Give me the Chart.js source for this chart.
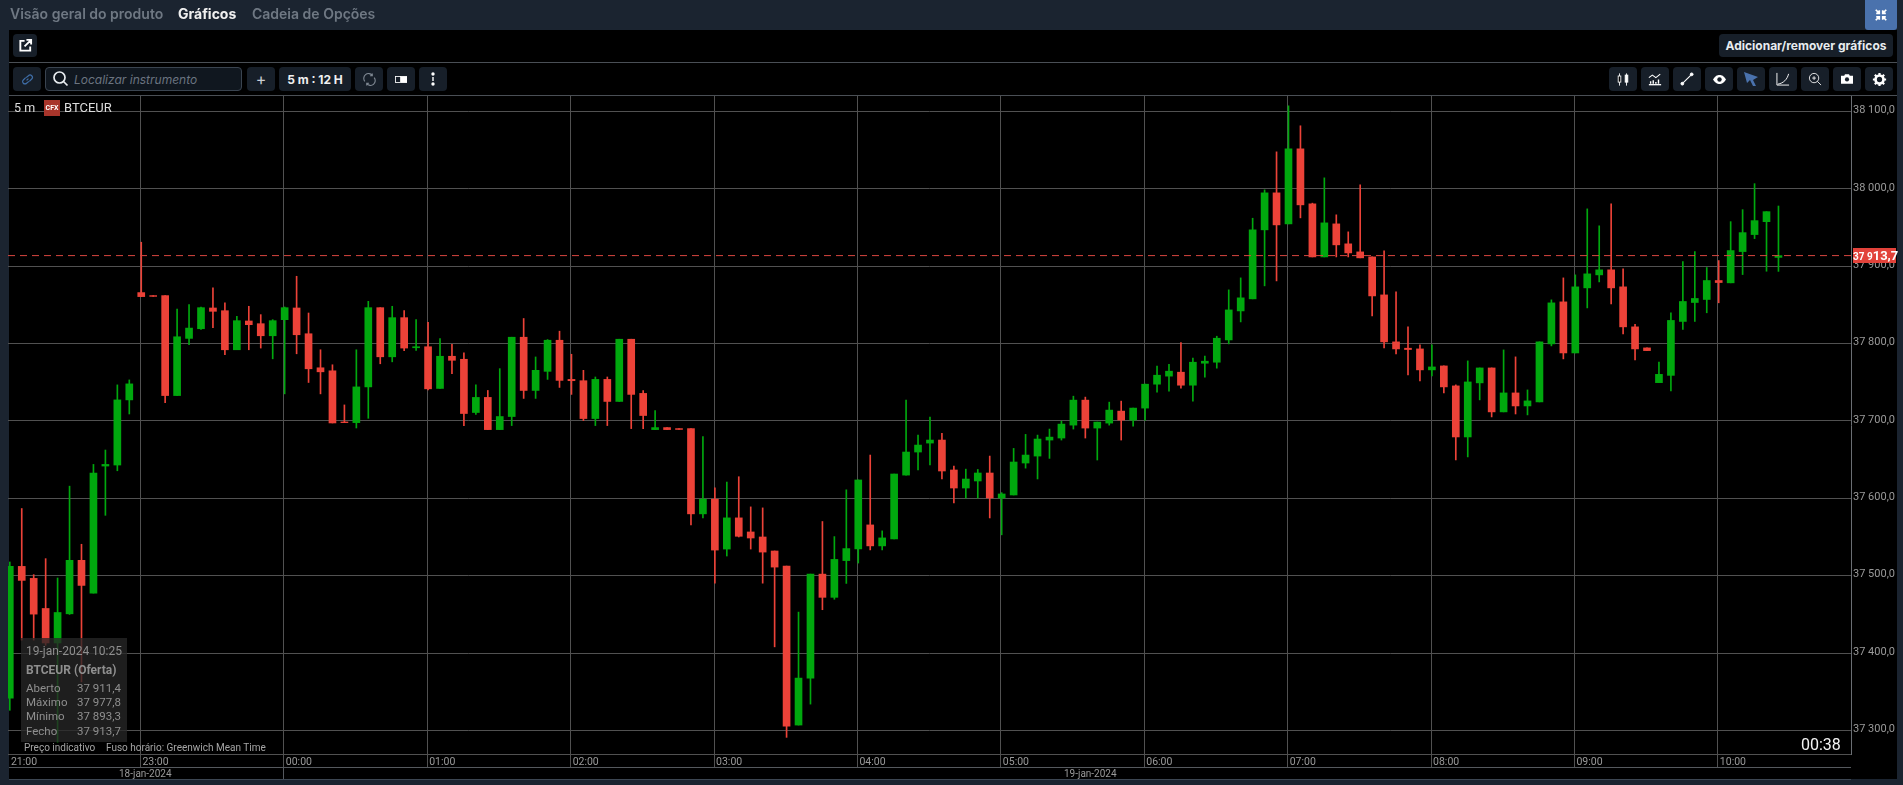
<!DOCTYPE html>
<html lang="pt">
<head>
<meta charset="utf-8">
<title>BTCEUR</title>
<script src="https://cdn.jsdelivr.net/npm/chart.js@4"></script>
<style>
html,body{margin:0;padding:0;width:1903px;height:785px;overflow:hidden;background:#1b2430;font-family:Inter,Roboto,sans-serif}
#panel{position:absolute;left:9px;top:30px;width:1888px;height:749px;background:#000}
canvas{position:absolute;left:0;top:0}
.a{position:absolute;white-space:nowrap}
.btn{position:absolute;background:#171f29;border-radius:4px;display:flex;align-items:center;justify-content:center;color:#fff;box-sizing:border-box}
.hl{position:absolute;height:1px;background:#4a4f55}
.nav{position:absolute;top:5px;font-size:14px;font-weight:600;color:#6f7883;line-height:18px}
.ax{position:absolute;font:10px Roboto,sans-serif;color:#9a9a9a;white-space:nowrap}
</style>
</head>
<body>
<div id="panel"></div>
<canvas id="c" width="1903" height="785"></canvas>

<div class="nav" style="left:10px">Visão geral do produto</div>
<div class="nav" style="left:178px;color:#f0f0f0;font-weight:700">Gráficos</div>
<div class="nav" style="left:252px">Cadeia de Opções</div>
<div class="btn" style="left:1865px;top:0;width:32px;height:30px;background:#4a72ad;border-radius:0 0 3px 3px">
<svg width="14" height="14" viewBox="0 0 16 16" fill="none" stroke="#fff" stroke-width="2"><path d="M2 2l4 4M6 2.5V6H2.5M14 2l-4 4M10 2.5V6h3.5M2 14l4-4M6 13.5V10H2.5M14 14l-4-4M10 13.5V10h3.5"/></svg></div>
<div class="btn" style="left:13px;top:34px;width:24px;height:23px">
<svg width="15" height="15" viewBox="0 0 16 16" fill="none" stroke="#fff" stroke-width="2"><path d="M7 3H2.5v10.500H13V9M9 2h5v5M14 2L7 9"/></svg></div>
<div class="btn" style="left:1719px;top:34px;width:174px;height:23px;font-size:12px;font-weight:700;color:#e8ecef">Adicionar/remover gráficos</div>
<div class="hl" style="left:9px;top:62px;width:1888px"></div>
<div class="hl" style="left:9px;top:95px;width:1888px"></div>

<div class="btn" style="left:13px;top:67px;width:28px;height:24px">
<svg width="13" height="13" viewBox="0 0 14 14" fill="none" stroke="#3f6ea8" stroke-width="1.300"><path d="M6 8l2-2M5 5L2.500 7.500a2.300 2.300 0 0 0 3.500 3.500L8.500 9M9 9l2.500-2.500A2.300 2.300 0 0 0 8 3L5.500 5"/></svg></div>
<div class="a" style="left:45px;top:67px;width:197px;height:24px;box-sizing:border-box;background:#10171f;border:1px solid #3a4450;border-radius:4px"></div>
<svg class="a" style="left:52px;top:70px" width="17" height="17" viewBox="0 0 17 17" fill="none" stroke="#e8ecef" stroke-width="1.700"><circle cx="7.500" cy="7.500" r="5.500"/><path d="M11.500 11.500L15.500 15.500"/></svg>
<div class="a" style="left:74px;top:72px;font-size:12px;font-style:italic;color:#6b7480;line-height:16px">Localizar instrumento</div>
<div class="btn" style="left:247px;top:67px;width:28px;height:24px;font-size:16px;color:#c9ced4">+</div>
<div class="btn" style="left:279px;top:67px;width:72px;height:24px;font-size:12px;font-weight:700;color:#f0f0f0">5 m : 12 H</div>
<div class="btn" style="left:355px;top:67px;width:28px;height:24px">
<svg width="13" height="13" viewBox="0 0 14 14" fill="none" stroke="#7f8892" stroke-width="1.200"><path d="M2 9A5 5 0 0 1 10 2.500M12 5a5 5 0 0 1-8 6.500M10 .5v2.500H7.500M4 13.500V11h2.500"/></svg></div>
<div class="btn" style="left:387px;top:67px;width:28px;height:24px">
<svg width="12" height="7" viewBox="0 0 14 8"><rect x=".5" y=".5" width="6" height="7" fill="none" stroke="#fff"/><rect x="7" y="0" width="7" height="8" fill="#fff"/></svg></div>
<div class="btn" style="left:419px;top:67px;width:28px;height:24px">
<svg width="6" height="14" viewBox="0 0 6 14" fill="#fff"><circle cx="3" cy="2" r="1.700"/><rect x="2.300" y="5" width="1.400" height="4"/><circle cx="3" cy="12" r="1.700"/></svg></div>

<div class="btn" style="left:1609px;top:67px;width:28px;height:24px"><svg width="14" height="15" viewBox="0 0 16 16" fill="none" stroke="#fff"><path d="M4 1v14M12 1v14"/><rect x="2.500" y="4" width="3" height="7" fill="#000"/><rect x="10.500" y="3" width="3" height="8" fill="#fff"/></svg></div>
<div class="btn" style="left:1641px;top:67px;width:28px;height:24px"><svg width="14" height="14" viewBox="0 0 16 15" fill="none" stroke="#fff" stroke-width="1.200"><path d="M1 6l4-3 4 3 5-4"/><path d="M1 14h14" stroke-width="1.500"/><path d="M3 13v-3M6 13V9M9 13v-2M12 13V8" stroke-width="1.600"/></svg></div>
<div class="btn" style="left:1673px;top:67px;width:28px;height:24px"><svg width="14" height="14" viewBox="0 0 15 15" fill="#fff" stroke="#fff"><path d="M3 12L12 3" stroke-width="1.200"/><circle cx="2.500" cy="12.500" r="1.500"/><circle cx="12.500" cy="2.500" r="1.500"/></svg></div>
<div class="btn" style="left:1705px;top:67px;width:28px;height:24px"><svg width="13" height="9" viewBox="0 0 16 11"><path d="M0 5.500C3 1 5 0 8 0s5 1 8 5.500C13 10 11 11 8 11S3 10 0 5.500z" fill="#fff"/><circle cx="8" cy="5.500" r="2.700" fill="#171f29"/></svg></div>
<div class="btn" style="left:1737px;top:67px;width:28px;height:24px"><svg width="16" height="16" viewBox="0 0 16 16" fill="#4a72ad"><path d="M1 1l14 5-5 3 3 6-3 0-3-6-3 3z"/></svg></div>
<div class="btn" style="left:1769px;top:67px;width:28px;height:24px"><svg width="14" height="14" viewBox="0 0 15 15" fill="none" stroke="#fff" stroke-width="1"><path d="M1 1v13h13M2 13C8 12 12 8 13.500 2"/></svg></div>
<div class="btn" style="left:1801px;top:67px;width:28px;height:24px"><svg width="14" height="14" viewBox="0 0 15 15" fill="none" stroke="#fff" stroke-width=".9"><circle cx="6.500" cy="6.500" r="5"/><path d="M10 10l4 4M6.500 4.500v4M4.500 6.500h4"/></svg></div>
<div class="btn" style="left:1833px;top:67px;width:28px;height:24px"><svg width="12" height="10" viewBox="0 0 15 12"><path d="M0 2h4l1-2h5l1 2h4v10H0z" fill="#fff"/><circle cx="7.500" cy="6.500" r="2.600" fill="#171f29"/></svg></div>
<div class="btn" style="left:1865px;top:67px;width:28px;height:24px"><svg width="15" height="15" viewBox="0 0 17 17"><circle cx="8.500" cy="8.500" r="4.500" fill="none" stroke="#fff" stroke-width="3"/><path d="M8.500 1v3M8.500 13v3M1 8.500h3M13 8.500h3M3.200 3.200l2 2M11.800 11.800l2 2M13.800 3.200l-2 2M5.200 11.800l-2 2" stroke="#fff" stroke-width="2.500"/></svg></div>

<div class="a" style="left:14px;top:100px;font:12.500px/16px Roboto,sans-serif;color:#ddd">5 m</div>
<div class="a" style="left:44px;top:100px;width:16px;height:16px;background:#a8352b;color:#fff;font:bold 7px/16px Roboto,sans-serif;text-align:center">CFX</div>
<div class="a" style="left:64px;top:100px;font:13px/16px Roboto,sans-serif;color:#ddd">BTCEUR</div>

<div class="a" style="left:1853px;top:248px;width:43px;height:15px;background:#e2423a;color:#fff;font:bold 10px/15px Roboto,sans-serif;text-align:center;z-index:3">37 9<span style="font-size:13px">13,7</span></div>

<div class="a" style="left:21px;top:638px;width:106px;height:104px;background:rgba(38,38,38,.78);color:#8f8f8f;font:11.500px/14px Roboto,sans-serif">
<div class="a" style="left:5px;top:6px;font-size:12px">19-jan-2024 10:25</div>
<div class="a" style="left:5px;top:25px;font-weight:700;font-size:12px">BTCEUR (Oferta)</div>
<div class="a" style="left:5px;top:43px">Aberto</div><div class="a" style="right:6px;top:43px;font-size:11.500px">37 911,4</div>
<div class="a" style="left:5px;top:57px">Máximo</div><div class="a" style="right:6px;top:57px">37 977,8</div>
<div class="a" style="left:5px;top:71px">Mínimo</div><div class="a" style="right:6px;top:71px">37 893,3</div>
<div class="a" style="left:5px;top:86px">Fecho</div><div class="a" style="right:6px;top:86px">37 913,7</div>
</div>
<div class="ax" style="left:24px;top:741px;color:#a5a5a5;line-height:13px">Preço indicativo</div>
<div class="ax" style="left:106px;top:741px;color:#a5a5a5;line-height:13px">Fuso horário: Greenwich Mean Time</div>
<div class="a" style="left:1801px;top:736px;font:16px/18px Roboto,sans-serif;color:#f2f2f2">00:38</div>

<div class="hl" style="left:9px;top:767px;width:1842px;background:#55595e"></div>
<div class="hl" style="left:9px;top:779px;width:1842px;background:#3c4652"></div>
<div class="a" style="left:283px;top:767px;width:1px;height:12px;background:#55595e"></div>
<div class="ax" style="left:119px;top:767px;line-height:13px">18-jan-2024</div>
<div class="ax" style="left:1064px;top:767px;line-height:13px">19-jan-2024</div>

<script>
const opens = [37341.8,37512,37496.5,37457.6,37413,37450.7,37519.8,37477.5,37641.7,37643,37727.2,37865.9,37862,37862,37732.8,37806.7,37819.2,37846,37842.5,37792,37829.2,37825.7,37810.1,37830.9,37846,37812.7,37768.7,37764.8,37698.7,37697.8,37744,37846.4,37782.9,37833.5,37794.6,37795.9,37742,37783.6,37779.7,37710.9,37730.4,37688.8,37705.7,37808.2,37739.4,37764.1,37804.3,37753.7,37752,37703.1,37753.7,37725.2,37805.6,37735.6,37688.8,37691.4,37690.1,37690.1,37579.9,37598.9,37534.4,37574.7,37556.5,37550,37531.9,37512.4,37306.9,37367.6,37502,37472,37519.5,37534.6,37565.6,37538.5,37547.5,37630,37659.8,37671.4,37675.3,37636.6,37613.3,37622.4,37632.7,37600.4,37604.3,37645.6,37654.6,37675.3,37677.9,37694.6,37726.9,37690.8,37697.2,37712.7,37701.1,37716.6,37747.5,37757.9,37763,37746.2,37774.6,37775.9,37804.7,37842.2,37857.8,37947,37994.8,37954.7,38051.7,37980.6,37912,37954.7,37928.9,37918.5,37912,37862.9,37802.2,37794,37793.1,37766,37771.1,37745.3,37679.3,37749.2,37768.5,37711.7,37736.2,37719.4,37724.6,37799.6,37853.9,37787.9,37872,37888.8,37895.3,37873.3,37821.6,37794.4,37749.5,37758.9,37828.6,37853.1,37857,37881.5,37878.5,37918.9,37940.9,37957.6,37911.4];
const highs = [37517.7,37586.8,37501.3,37522,37497,37615.7,37540.6,37643.8,37662.4,37746.6,37753,37931,37862,37862,37844.7,37850.3,37847.3,37871.9,37852.5,37835.2,37848.2,37837.4,37830.9,37847.3,37887,37839.5,37792,37772.6,37720.7,37792,37854.6,37846.4,37848.2,37842.5,37830.9,37827.4,37806.5,37799.1,37787.9,37746.8,37739.4,37767.6,37808.2,37832.4,37782.7,37805.2,37816,37786.2,37765.4,37756.8,37756.8,37805.6,37805.6,37739.4,37713.5,37691.4,37690.1,37690.1,37679.8,37613.6,37621,37627.9,37588.9,37587.6,37531.9,37512.4,37452.9,37502,37570,37550.5,37611,37623.7,37655.9,37557.9,37631.4,37726.9,37681.7,37705,37683.9,37641.7,37637.7,37637.3,37654.6,37607.3,37664.5,37682.6,37681.7,37689.5,37699.8,37732,37730.8,37698.5,37724.3,37725.6,37716.6,37747.5,37770.8,37773.3,37801.3,37781.1,37783.7,37809.5,37869.4,37884.9,37962,37998.7,38047.8,38107.3,38081.5,37981.5,38014.2,37966.4,37944.4,38005.2,37912,37919.8,37866.8,37821.6,37798.3,37798.3,37771.1,37746.6,37777.6,37768.5,37768.5,37791.8,37782.8,37740.1,37802.2,37856.5,37884.9,37888.8,37974.1,37952.2,37980.6,37896.6,37825,37794.4,37776,37839.8,37906,37918.9,37898.3,37907.3,37957.6,37973.1,38006.7,37970.5,37977.8];
const lows = [37326,37416.7,37416.7,37410,37285,37449.9,37362.7,37477.5,37578,37635.6,37709,37860.7,37861,37723.7,37732.8,37798.5,37818.4,37820.5,37785.5,37792,37792,37794.2,37780.3,37735,37786.8,37749.7,37735,37697.4,37697.8,37690.9,37703.4,37773.9,37776.4,37790.7,37791.1,37740.2,37742,37761,37694,37708.3,37688.8,37688.8,37694,37729.1,37729.1,37753.7,37743.3,37734.3,37700.5,37694,37694,37725.2,37690.1,37690.1,37688.8,37688.8,37689,37565.6,37574.7,37490.3,37525.4,37550,37534.4,37490.3,37408,37291,37306.9,37334,37456,37469.5,37490,37516.3,37533.3,37533.3,37547.5,37630,37636.6,37643,37625,37594,37600.4,37600.4,37574.6,37552.8,37604.3,37639,37625,37651.6,37675.3,37689.5,37677.9,37649.5,37694.6,37675.3,37693.3,37701.1,37737.2,37738.5,37742.4,37725.6,37756.6,37768.2,37799.6,37828,37857.8,37874.6,37881,37954.7,37962.5,37912,37912,37912,37912,37910.8,37835.8,37794.4,37786.7,37759.5,37751.7,37758.2,37736.2,37649.6,37653.5,37727.2,37705.2,37711.7,37709,37707.8,37724.6,37797,37780.2,37787.9,37846.1,37879.7,37851.3,37812.5,37778.9,37790.9,37749.5,37738.7,37818.3,37828.6,37839.8,37852.7,37878.5,37889.2,37935.7,37893.5,37893.3];
const closes = [37512,37493.9,37450.3,37413,37452.4,37519.8,37487.4,37632.6,37643.8,37727.2,37747.9,37860.7,37861,37732.8,37808.8,37820,37846.4,37841.7,37792,37829.6,37824.4,37810.1,37829.6,37846.4,37811.4,37767.4,37763.5,37697.4,37697.8,37744,37846.4,37782.9,37833.5,37794.2,37795.9,37741.5,37783.6,37778.4,37709.6,37730.4,37688.8,37705.7,37808.2,37739.4,37765.4,37804.3,37752.4,37752,37703.1,37753.7,37725.2,37805.6,37734.3,37707,37691.4,37688.8,37689,37579.9,37598.9,37533.1,37574.7,37550.9,37548.7,37530.5,37511.1,37305.6,37367.6,37502,37472,37521,37535,37623.7,37538.5,37548.8,37631.4,37659.8,37668.8,37675.3,37635.3,37613.3,37624.9,37632.7,37600.4,37605.6,37646.9,37655.9,37676.6,37679.1,37695.9,37726.9,37690.8,37698.5,37714,37701.1,37716.6,37747.5,37759.1,37764.3,37746.2,37775.9,37777.2,37806.9,37843.5,37859.1,37947,37994.8,37953.4,38051.7,37979.3,37912,37956,37927.6,37917.2,37910.8,37861.6,37802.2,37793.1,37792.3,37766,37769.8,37744,37679.3,37750.4,37768.5,37711.7,37736.2,37719.4,37725.9,37802.2,37852.6,37787.9,37873.3,37890.1,37895.3,37872,37821.6,37793.1,37790.9,37760.2,37829.9,37854.4,37858.3,37881.5,37878.9,37920.2,37943.4,37958.9,37970.5,37913.7];
const timeTickIndex = [0,11,23,35,47,59,71,83,95,107,119,131,143];
const timeTickLabels = ["21:00","23:00","00:00","01:00","02:00","03:00","04:00","05:00","06:00","07:00","08:00","09:00","10:00"];
const priceTicks = [37300,37400,37500,37600,37700,37800,37900,38000,38100];
const lastPrice = 37913.7;

const UP = '#00a80e', DOWN = '#ec4238';
const X_MIN = -0.15, X_MAX = 154.07, Y_MIN = 37269.5, Y_MAX = 38120;
const fmt = v => { const s = v.toFixed(1).replace('.', ','); return s.slice(0,2) + ' ' + s.slice(2); };
const colours = opens.map((o,i) => closes[i] < o ? DOWN : UP);

new Chart(document.getElementById('c'), {
  type: 'bar',
  data: { datasets: [
    { type:'line', order:0, data:[{x:X_MIN,y:lastPrice},{x:X_MAX,y:lastPrice}], borderColor:'#d8463f', borderWidth:1, borderDash:[7,5], pointRadius:0 },
    { order:1, grouped:false, barThickness:7, backgroundColor:colours,
      data: opens.map((o,i) => ({x:i, y:[Math.min(o,closes[i]), Math.max(o,closes[i])]})) },
    { order:2, grouped:false, barThickness:1, backgroundColor:colours,
      data: highs.map((h,i) => ({x:i, y:[lows[i], h]})) }
  ]},
  options: {
    responsive:false, animation:false, devicePixelRatio:1,
    layout:{ padding:{ left:8, top:96, right:0, bottom:0 } },
    plugins:{ legend:{display:false}, tooltip:{enabled:false} },
    scales:{
      x:{ type:'linear', min:X_MIN, max:X_MAX, offset:false,
        afterBuildTicks:s => { s.ticks = timeTickIndex.map(v => ({value:v - 0.07})); },
        afterFit:s => { s.height = 31; },
        border:{ color:'#515151' },
        grid:{ offset:false, color:c => c.tick && Math.round(c.tick.value) === 0 ? 'rgba(0,0,0,0)' : '#515151', tickLength:13, lineWidth:1 },
        ticks:{ autoSkip:false, maxRotation:0, minRotation:0, align:'start', padding:-11, labelOffset:2, color:'#9a9a9a',
          font:{family:'Roboto',size:10.5},
          callback:v => timeTickLabels[timeTickIndex.indexOf(Math.round(v))] }
      },
      y:{ type:'linear', position:'right', min:Y_MIN, max:Y_MAX,
        afterBuildTicks:s => { s.ticks = priceTicks.map(v => ({value:v})); },
        afterFit:s => { s.width = 52; },
        border:{ color:'#6a6e73' },
        grid:{ color:'#515151', drawTicks:false, lineWidth:1 },
        ticks:{ padding:2, labelOffset:-1, color:'#9a9a9a', font:{family:'Roboto',size:11}, callback:fmt }
      }
    }
  }
});
</script>
</body>
</html>
